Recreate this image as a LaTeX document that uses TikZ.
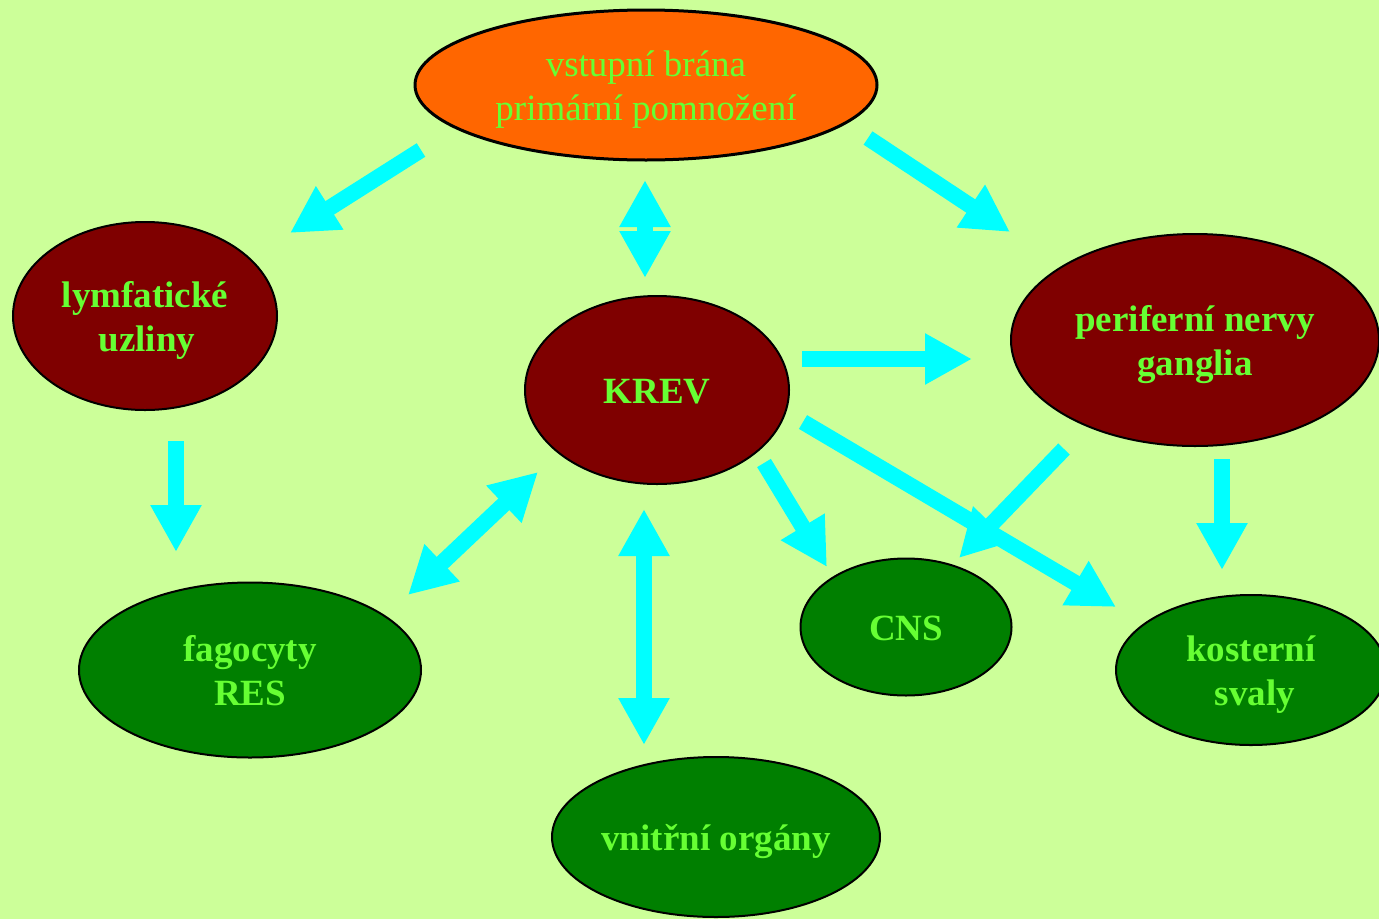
\documentclass[tikz,border=0pt]{standalone}
\usepackage{fontspec}
\setmainfont{Liberation Serif}
\usetikzlibrary{shapes.geometric,arrows.meta}
\definecolor{bg}{HTML}{CCFF99}
\definecolor{txt}{HTML}{66FF33}
\definecolor{orng}{HTML}{FF6600}
\definecolor{dred}{HTML}{7F0000}
\definecolor{dgrn}{HTML}{007F00}
\definecolor{cyn}{HTML}{00FFFF}
\newcommand\lowtext[1]{\raisebox{0pt}[\dimexpr\height+10pt\relax][\depth]{\begin{tabular}{@{}c@{}}#1\end{tabular}}}
\tikzset{
  blob/.style={ellipse, draw=black, line width=2pt, inner sep=0pt, align=center,
    text=txt, font=\bfseries\fontsize{37}{44}\selectfont},
  redblob/.style={blob, fill=dred},
  grnblob/.style={blob, fill=dgrn},
  arr/.style={draw=cyn, line width=16pt, -{Triangle[length=47pt,width=48pt]}},
  darr/.style={draw=cyn, line width=16pt, {Triangle[length=47pt,width=48pt]}-{Triangle[length=47pt,width=48pt]}}
}
\begin{document}
\begin{tikzpicture}[x=1pt,y=-1pt]
\fill[bg] (0,0) rectangle (1379,919);
\useasboundingbox (0,0) rectangle (1379,919);
\clip (0,0) rectangle (1379,919);
% nodes
\node[blob, fill=orng, line width=3pt, minimum width=462pt, minimum height=150pt,
  font=\fontsize{37}{44}\selectfont] (top) at (646,85) {\lowtext{vstupní brána\\primární pomnožení}};
\node[redblob, minimum width=264pt, minimum height=188pt] (lym) at (145,316) {\lowtext{lymfatické\\\hspace{4pt}uzliny}};
\node[redblob, minimum width=264pt, minimum height=188pt] (krev) at (657,390) {\lowtext{KREV}};
\node[redblob, minimum width=368pt, minimum height=212pt] (per) at (1195,340) {\lowtext{periferní nervy\\ganglia}};
\node[grnblob, minimum width=342pt, minimum height=175pt] (fag) at (250,670) {\lowtext{fagocyty\\RES}};
\node[grnblob, minimum width=328pt, minimum height=160pt] (vni) at (716,837) {\lowtext{vnitřní orgány}};
\node[grnblob, minimum width=211pt, minimum height=137pt] (cns) at (906,627) {\lowtext{CNS}};
\node[grnblob, minimum width=270pt, minimum height=150pt] (kos) at (1251,670) {\lowtext{kosterní\\\hspace{8pt}svaly}};
% connector end points
\coordinate (a1s) at (421,150); \coordinate (a1e) at (290,233);
\coordinate (a2s) at (868,138); \coordinate (a2e) at (1010,232);
\coordinate (a3s) at (645,180); \coordinate (a3e) at (645,278);
\coordinate (a4s) at (176,441); \coordinate (a4e) at (176,552);
\coordinate (a5s) at (802,359); \coordinate (a5e) at (972,359);
\coordinate (a6s) at (764,463); \coordinate (a6e) at (827,567);
\coordinate (a7s) at (803,422); \coordinate (a7e) at (1116,607);
\coordinate (a8s) at (1064,449); \coordinate (a8e) at (959,558);
\coordinate (a9s) at (1222,459); \coordinate (a9e) at (1222,570);
\coordinate (a10s) at (538,472); \coordinate (a10e) at (408,595);
\coordinate (a11s) at (644,509); \coordinate (a11e) at (644,745);
% connectors
\draw[arr] (a1s) -- (a1e);
\draw[arr] (a2s) -- (a2e);
\draw[darr] (a3s) -- (a3e);
\draw[arr] (a4s) -- (a4e);
\draw[arr] (a5s) -- (a5e);
\draw[arr] (a6s) -- (a6e);
\draw[arr] (a7s) -- (a7e);
\draw[arr] (a8s) -- (a8e);
\draw[arr] (a9s) -- (a9e);
\draw[darr] (a10s) -- (a10e);
\draw[darr] (a11s) -- (a11e);
\end{tikzpicture}
\end{document}
